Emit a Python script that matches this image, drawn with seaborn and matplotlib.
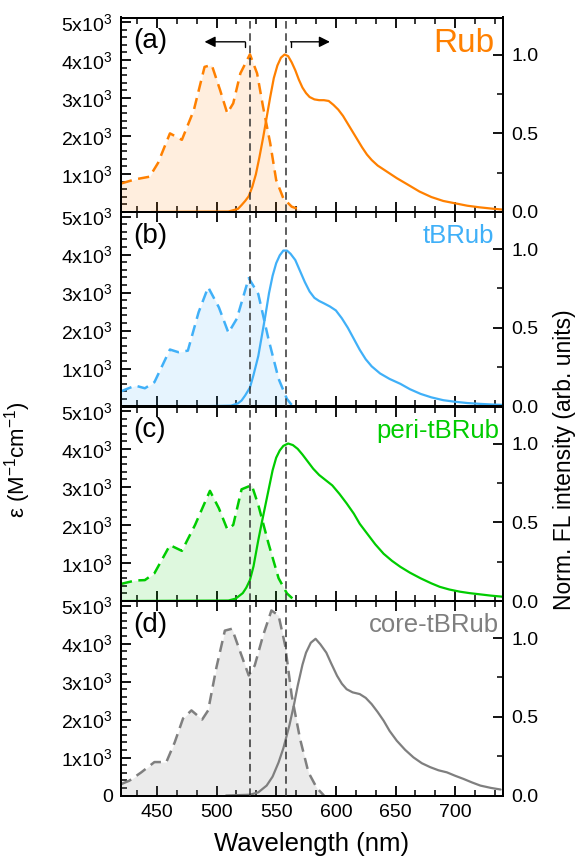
import numpy as np
import pandas as pd
import matplotlib
matplotlib.use("Agg")
import matplotlib.pyplot as plt
import seaborn as sns
from matplotlib.ticker import FixedLocator, MultipleLocator, AutoMinorLocator, FuncFormatter

sns.set_theme(style="ticks")
plt.rcParams["font.family"] = ["Liberation Sans", "DejaVu Sans"]
plt.rcParams["mathtext.fontset"] = "custom"
plt.rcParams["mathtext.rm"] = "Liberation Sans"
plt.rcParams["mathtext.it"] = "Liberation Sans:italic"
for k in ["text.color", "axes.labelcolor", "xtick.color", "ytick.color", "axes.edgecolor"]:
    plt.rcParams[k] = "black"

# ---------------- data ----------------
names = ["Rub", "tBRub", "peri-tBRub", "core-tBRub"]
panel_tags = ["(a)", "(b)", "(c)", "(d)"]
colors = ["#FF8000", "#40B0F8", "#00CC00", "#7F7F7F"]

rub_abs_wl = [420, 432, 444, 451, 461, 471, 481, 490, 496, 503, 509, 514, 520, 528, 534, 539, 545, 550, 556, 563, 571]
rub_abs_eps = [750, 860, 930, 1290, 2070, 1900, 2680, 3820, 3870, 3210, 2600, 2860, 3650, 4150, 3650, 2770, 1810, 840, 360, 140, 50]
rub_fl_wl = [445, 510, 518, 521, 524, 527, 530, 533, 536, 539, 542, 545, 548, 551, 554, 557, 560, 563, 566, 569, 572, 575, 578, 582, 586, 590, 594, 598, 602, 606, 610, 614, 618, 622, 626, 630, 635, 640, 645, 651, 660, 670, 680, 690, 700, 710, 720, 730, 740]
rub_fl = [0, 0.003, 0.02, 0.044, 0.07, 0.1, 0.16, 0.24, 0.35, 0.47, 0.6, 0.73, 0.85, 0.93, 0.98, 1.0, 0.99, 0.95, 0.9, 0.84, 0.79, 0.755, 0.73, 0.715, 0.71, 0.71, 0.705, 0.68, 0.65, 0.61, 0.56, 0.51, 0.46, 0.41, 0.365, 0.33, 0.295, 0.27, 0.245, 0.215, 0.175, 0.13, 0.095, 0.07, 0.055, 0.04, 0.03, 0.022, 0.015]

tbrub_abs_wl = [420, 432, 440, 448, 461, 468, 476, 485, 493, 502, 510, 517, 527, 535, 543.5, 552, 559, 564]
tbrub_abs_eps = [400, 550, 480, 640, 1500, 1430, 1470, 2480, 3140, 2610, 1940, 2310, 3380, 2960, 1780, 730, 200, 0]
tbrub_fl_wl = [475, 512, 518, 521, 524, 528, 531, 535, 538, 541, 544, 547, 550, 553, 556, 559, 562, 566, 570, 574, 578, 582, 586, 590, 595, 600, 605, 610, 615, 620, 625, 630, 637, 645, 654, 662, 671, 680, 690, 700, 710, 720, 730, 740]
tbrub_fl = [0, 0.005, 0.02, 0.038, 0.07, 0.12, 0.2, 0.32, 0.45, 0.58, 0.72, 0.83, 0.91, 0.96, 0.99, 0.99, 0.97, 0.93, 0.86, 0.79, 0.73, 0.69, 0.67, 0.655, 0.635, 0.61, 0.56, 0.5, 0.43, 0.36, 0.3, 0.255, 0.21, 0.175, 0.144, 0.11, 0.08, 0.058, 0.04, 0.03, 0.022, 0.017, 0.013, 0.01]

peri_abs_wl = [420, 432, 440, 448, 461, 471, 482, 494.5, 502, 509, 514, 521, 529.5, 535, 543.5, 552, 559, 566]
peri_abs_eps = [450, 540, 550, 730, 1470, 1320, 2000, 2900, 2440, 1890, 2000, 2940, 3050, 2530, 1520, 600, 200, 0]
peri_fl_wl = [420, 510, 516, 522, 525, 528, 531, 535, 538, 541, 544, 547, 550, 553, 556, 560, 564, 568, 572, 576, 581, 586, 591, 597, 603, 609, 615, 620, 626, 633, 640, 647, 654, 662, 671, 680, 687, 695, 704, 712, 721, 730, 740]
peri_fl = [0, 0.003, 0.015, 0.05, 0.085, 0.133, 0.22, 0.386, 0.5, 0.61, 0.72, 0.83, 0.91, 0.956, 0.985, 1.0, 0.99, 0.966, 0.93, 0.89, 0.84, 0.8, 0.77, 0.734, 0.68, 0.62, 0.555, 0.49, 0.43, 0.36, 0.3, 0.255, 0.217, 0.18, 0.144, 0.112, 0.09, 0.073, 0.059, 0.05, 0.042, 0.034, 0.027]

core_abs_wl = [420, 427, 437, 448, 458, 465, 472, 479, 488, 493, 500, 507, 513, 520, 527, 532, 539, 546, 552, 557.5, 563, 570, 577, 584, 590]
core_abs_eps = [300, 390, 610, 880, 880, 1400, 2030, 2240, 2000, 2240, 3380, 4340, 4390, 3770, 3160, 3420, 4210, 4870, 4740, 3950, 2630, 1490, 610, 200, 0]
core_fl_wl = [508, 528, 535, 542, 547, 552, 556, 561, 565, 568, 572, 575, 579, 583, 587, 592, 596, 601, 605, 609, 614, 620, 625, 630, 635, 640, 645, 651, 658, 665, 672, 679, 686, 693, 700, 707, 714, 721, 730, 738]
core_fl = [0, 0.005, 0.02, 0.063, 0.12, 0.21, 0.3, 0.443, 0.58, 0.696, 0.83, 0.907, 0.97, 0.995, 0.96, 0.907, 0.84, 0.76, 0.71, 0.675, 0.655, 0.644, 0.62, 0.58, 0.53, 0.475, 0.41, 0.348, 0.29, 0.242, 0.205, 0.18, 0.16, 0.147, 0.125, 0.105, 0.083, 0.063, 0.048, 0.038]

abs_wl = [rub_abs_wl, tbrub_abs_wl, peri_abs_wl, core_abs_wl]
abs_eps = [rub_abs_eps, tbrub_abs_eps, peri_abs_eps, core_abs_eps]
fl_wl = [rub_fl_wl, tbrub_fl_wl, peri_fl_wl, core_fl_wl]
fl_int = [rub_fl, tbrub_fl, peri_fl, core_fl]

ref_lines = [528, 558]
left_ticks = [1000, 2000, 3000, 4000, 5000]
right_ticks = [0.0, 0.5, 1.0]
x_ticks = [450, 500, 550, 600, 650, 700]
arrow_left = (524, 490)
arrow_right = (562, 595)
arrow_eps = 4480

# ---------------- figure ----------------
fig = plt.figure(figsize=(5.81, 8.66), dpi=100)
L, R = 121 / 581, 503 / 581
TOP, BOT = 1 - 17.5 / 866, 1 - 795.5 / 866
gs = fig.add_gridspec(4, 1, left=L, right=R, top=TOP, bottom=BOT, hspace=0)


def eps_fmt(v, pos):
    if v == 0:
        return "0"
    return r"%dx10$^{3}$" % int(round(v / 1000))


for i in range(4):
    ax = fig.add_subplot(gs[i])
    ax2 = ax.twinx()
    c = colors[i]
    dfa = pd.DataFrame({"wl": abs_wl[i], "eps": abs_eps[i]})
    dff = pd.DataFrame({"wl": fl_wl[i], "fl": fl_int[i]})

    ax.fill_between(dfa["wl"], 0, dfa["eps"], color=c, alpha=0.13 if i < 3 else 0.15, lw=0)
    sns.lineplot(data=dfa, x="wl", y="eps", ax=ax, color=c, lw=1.8,
                 linestyle=(0, (4.5, 2.6)), sort=False)
    sns.lineplot(data=dff, x="wl", y="fl", ax=ax2, color=c, lw=1.6, sort=False)

    for xv in ref_lines:
        ax2.axvline(xv, color="#333333", lw=1.1, linestyle=(0, (5, 3)), zorder=5)

    ax.set_xlim(420, 740)
    ax.set_ylim(0, 5120)
    ax2.set_ylim(0, 1.235)

    ax.yaxis.set_major_locator(FixedLocator(([0] if i == 3 else []) + left_ticks))
    ax.yaxis.set_minor_locator(MultipleLocator(200))
    ax.yaxis.set_major_formatter(FuncFormatter(eps_fmt))
    ax2.yaxis.set_major_locator(FixedLocator(right_ticks))
    ax2.yaxis.set_minor_locator(MultipleLocator(0.25))
    ax2.yaxis.set_major_formatter(FuncFormatter(lambda v, p: "%.1f" % v))

    ax.xaxis.set_major_locator(FixedLocator(x_ticks))
    ax.xaxis.set_minor_locator(AutoMinorLocator(3))

    ax.tick_params(axis="x", which="both", direction="in", top=True, bottom=True)
    ax.tick_params(axis="x", which="major", length=7, width=1.3, labelsize=14, pad=6)
    ax.tick_params(axis="x", which="minor", length=4, width=1.1)
    ax.tick_params(axis="y", which="both", direction="in", left=True, right=False)
    ax.tick_params(axis="y", which="major", length=7, width=1.3, labelsize=14, pad=6)
    ax.tick_params(axis="y", which="minor", length=4, width=1.1)
    ax2.tick_params(axis="y", which="both", direction="in", right=True, left=False)
    ax2.tick_params(axis="y", which="major", length=7, width=1.3, labelsize=14, pad=6)
    ax2.tick_params(axis="y", which="minor", length=4, width=1.1)

    if i < 3:
        ax.tick_params(axis="x", labelbottom=False)
    for a in (ax, ax2):
        for s in a.spines.values():
            s.set_linewidth(1.4)
            s.set_color("black")
    ax.set_xlabel("")
    ax.set_ylabel("")
    ax2.set_ylabel("")

    ax.text(0.032, 0.842, panel_tags[i], transform=ax.transAxes, fontsize=20,
            ha="left", va="baseline", color="black", zorder=6)
    ax2.text(0.978 if i < 2 else 0.99, 0.825 if i == 0 else 0.84, names[i],
             transform=ax.transAxes, fontsize=24 if i == 0 else 18.5,
             ha="right", va="baseline", color=c, zorder=6)

    if i == 0:
        ax2.annotate("", xy=(arrow_left[1], arrow_eps), xytext=(arrow_left[0], arrow_eps),
                     xycoords=ax.transData, textcoords=ax.transData,
                     arrowprops=dict(arrowstyle="-|>", color="black", lw=1.0,
                                     mutation_scale=16, shrinkA=0, shrinkB=0))
        ax2.annotate("", xy=(arrow_right[1], arrow_eps), xytext=(arrow_right[0], arrow_eps),
                     xycoords=ax.transData, textcoords=ax.transData,
                     arrowprops=dict(arrowstyle="-|>", color="black", lw=1.0,
                                     mutation_scale=16, shrinkA=0, shrinkB=0))
        for xv in (arrow_left[0], arrow_right[0]):
            ax.plot([xv, xv], [arrow_eps, arrow_eps - 130], color="black", lw=1.0)

    if i == 3:
        ax.set_xlabel("Wavelength (nm)", fontsize=18.5, labelpad=8)

fig.text(18 / 581, 406 / 866, r"ε (M$^{-1}$cm$^{-1}$)", rotation=90, ha="center",
         va="center", fontsize=16)
fig.text(565 / 581, 406 / 866, "Norm. FL intensity (arb. units)", rotation=90,
         ha="center", va="center", fontsize=16.5)

fig.savefig("out.png", dpi=100)
